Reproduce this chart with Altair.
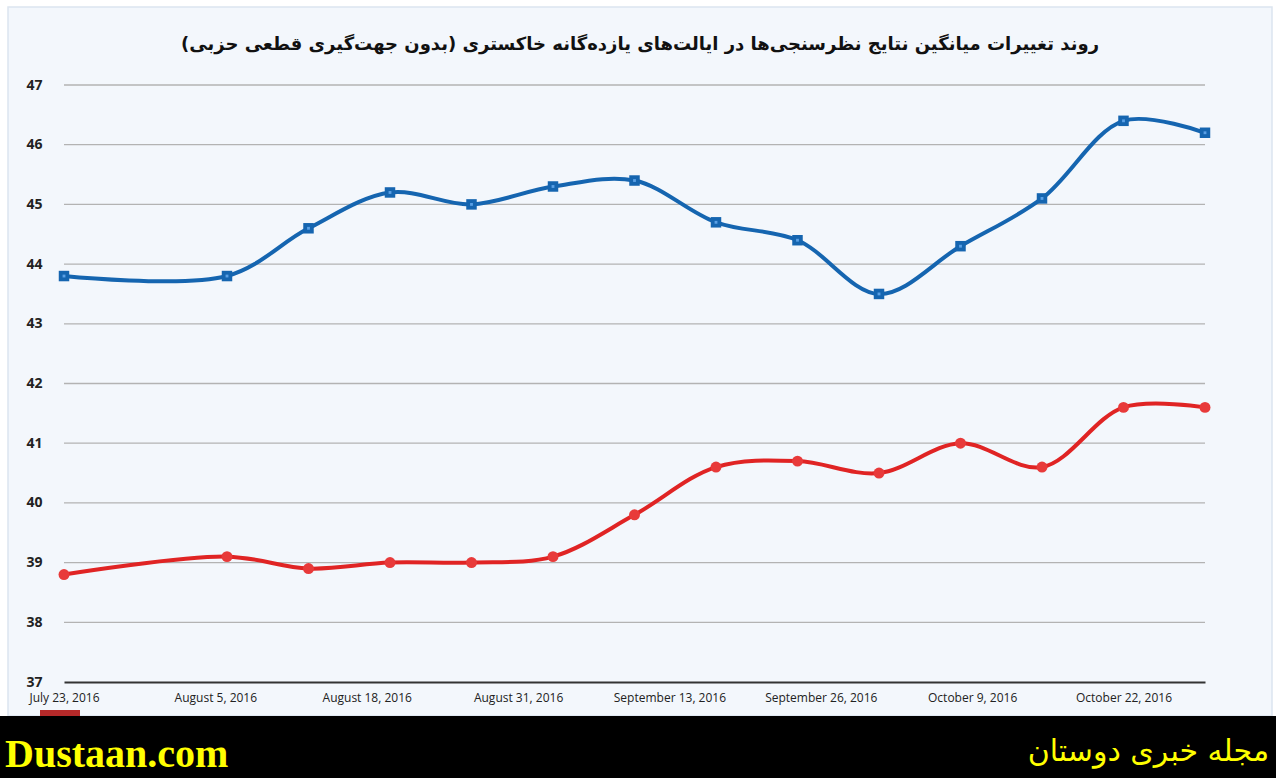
import altair as alt
import pandas as pd

dates = ["2016-07-23", "2016-08-06", "2016-08-13", "2016-08-20", "2016-08-27",
         "2016-09-03", "2016-09-10", "2016-09-17", "2016-09-24", "2016-10-01",
         "2016-10-08", "2016-10-15", "2016-10-22", "2016-10-29"]
blue_vals = [43.8, 43.8, 44.6, 45.2, 45.0, 45.3, 45.4, 44.7, 44.4, 43.5, 44.3, 45.1, 46.4, 46.2]
red_vals = [38.8, 39.1, 38.9, 39.0, 39.0, 39.1, 39.8, 40.6, 40.7, 40.5, 41.0, 40.6, 41.6, 41.6]
y_ticks = [37, 38, 39, 40, 41, 42, 43, 44, 45, 46, 47]
label_dates = [(7, 23), (8, 5), (8, 18), (8, 31), (9, 13), (9, 26), (10, 9), (10, 22)]
title_text = "روند تغییرات میانگین نتایج نظرسنجی‌ها در ایالت‌های یازده‌گانه خاکستری (بدون جهت‌گیری قطعی حزبی)"
brand_left = "Dustaan.com"
brand_right = "مجله خبری دوستان"

BLUE = "#1565b0"
RED = "#e02424"

df_blue = pd.DataFrame({"date": dates, "value": blue_vals})
df_red = pd.DataFrame({"date": dates, "value": red_vals})
df_grid = pd.DataFrame({"v": y_ticks[1:]})

W, H = 1141, 597
x_scale = alt.Scale(type="utc",
                    domain=[alt.DateTime(year=2016, month=7, date=23, utc=True),
                            alt.DateTime(year=2016, month=10, date=29, utc=True)])
y_scale = alt.Scale(domain=[37, 47], nice=False, zero=False)

x_axis = alt.Axis(
    values=[alt.DateTime(year=2016, month=m, date=d, utc=True) for m, d in label_dates],
    labelExpr="utcFormat(datum.value, '%B %-d, %Y')",
    title=None, grid=False, ticks=False, labelFont="Open Sans", labelFontSize=12,
    labelColor="#222", labelPadding=10, domainColor="#333", domainWidth=2,
    labelOverlap=False, labelFlush=False, zindex=1)
y_axis = alt.Axis(values=y_ticks, title=None, grid=False, ticks=False, domain=False,
                  labelFont="Open Sans", labelFontSize=14, labelFontWeight="bold",
                  labelColor="#222", labelPadding=22, zindex=1)

blank = pd.DataFrame({"a": [0]})

panel = alt.Chart(blank).mark_rect(fill="#f3f7fc", stroke="#dce5ef", strokeWidth=1.5).encode(
    x=alt.value(-56), x2=alt.value(1208), y=alt.value(-78), y2=alt.value(631))

grid = alt.Chart(df_grid).mark_rule(color="#b3b3b3", strokeWidth=1.3).encode(
    y=alt.Y("v:Q", scale=y_scale, axis=y_axis), x=alt.value(0), x2=alt.value(W))

def series(df, color, shape):
    base = alt.Chart(df).encode(
        x=alt.X("date:T", scale=x_scale, axis=x_axis),
        y=alt.Y("value:Q", scale=y_scale, axis=y_axis))
    line = base.mark_line(color=color, strokeWidth=4, interpolate="catmull-rom")
    if shape == "square":
        pts = base.mark_point(shape="square", filled=True, color=color, size=110, opacity=1)
        inner = base.mark_point(shape="square", filled=True, color="#5aa0e6", size=8, opacity=1)
        return line + pts + inner
    pts = base.mark_point(shape="circle", filled=True, color="#e83a3a", size=120, opacity=1)
    return line + pts

title = alt.Chart(blank).mark_text(text=title_text, font="DejaVu Sans", fontWeight="bold",
                                   fontSize=18, color="#111", align="center", baseline="middle").encode(
    x=alt.value(576), y=alt.value(-40))

logo = alt.Chart(blank).mark_rect(fill="#b52a2a").encode(
    x=alt.value(-24), x2=alt.value(16), y=alt.value(625), y2=alt.value(631))

banner = alt.Chart(blank).mark_rect(fill="#000000").encode(
    x=alt.value(-64), x2=alt.value(1212), y=alt.value(631), y2=alt.value(693))

brand1 = alt.Chart(blank).mark_text(text=brand_left, font="Liberation Serif", fontWeight="bold",
                                    fontSize=40, color="#ffff00", align="left", baseline="middle").encode(
    x=alt.value(-59), y=alt.value(670))
brand2 = alt.Chart(blank).mark_text(text=brand_right, font="DejaVu Sans", fontSize=30,
                                    color="#ffff00", align="right", baseline="middle").encode(
    x=alt.value(1205), y=alt.value(667))

chart = alt.layer(panel, grid, series(df_blue, BLUE, "square"), series(df_red, RED, "circle"),
                  title, logo, banner, brand1, brand2).properties(
    width=W, height=H,
    autosize=alt.AutoSizeParams(type="none"),
    padding={"left": 64, "top": 85, "right": 71, "bottom": 96},
    background="white",
).configure_view(stroke=None)

chart.save("out.html", embed_options={"renderer": "svg", "actions": False})
